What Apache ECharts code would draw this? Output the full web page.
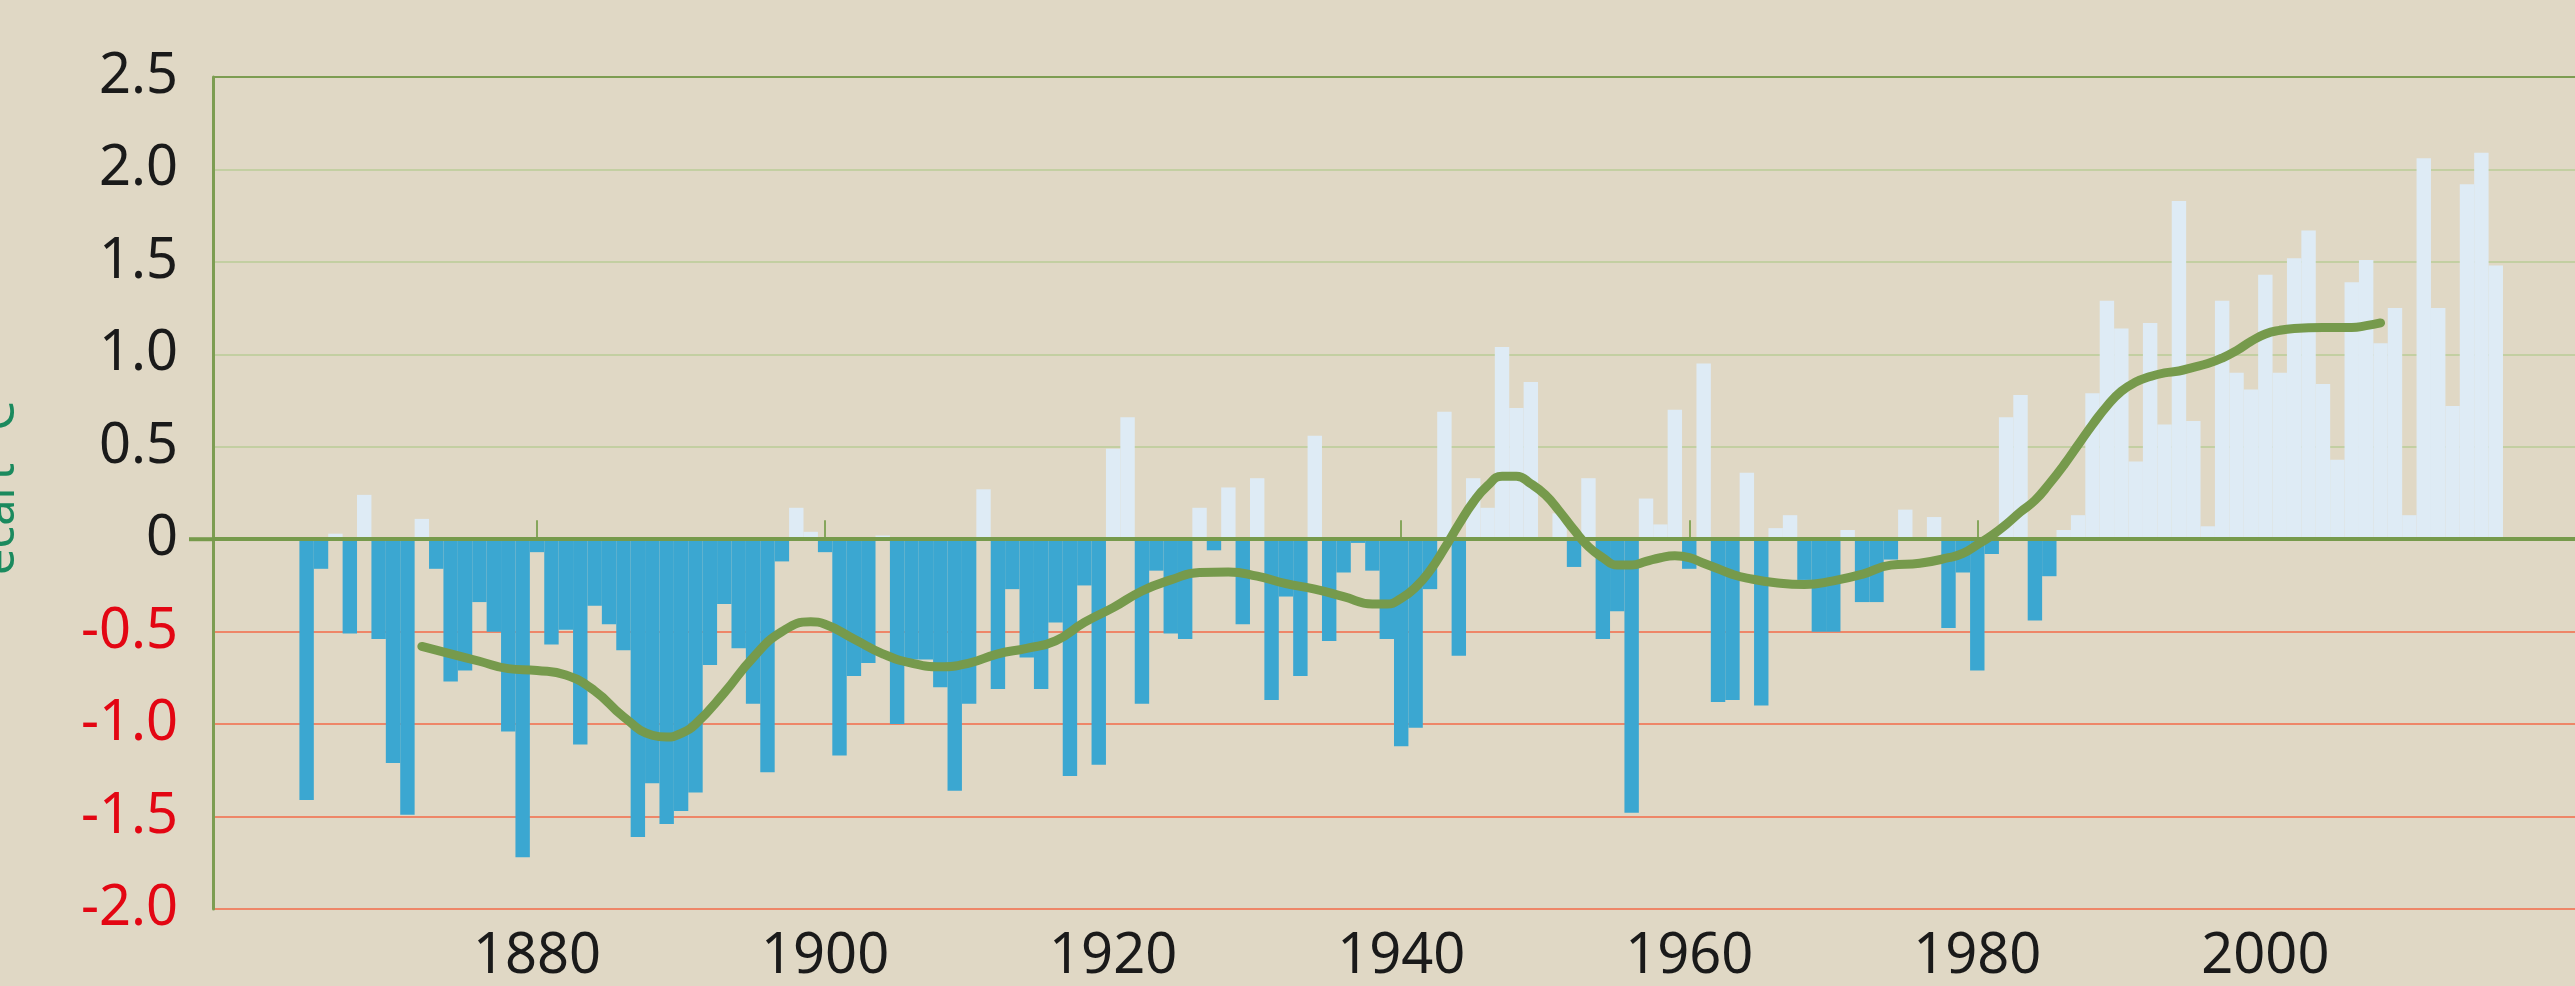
<!DOCTYPE html>
<html>
<head>
<meta charset="utf-8">
<script src="https://cdn.jsdelivr.net/npm/echarts@6/dist/echarts.min.js"></script>
<style>
html,body{margin:0;padding:0;background:#e0d8c5;}
#chart{width:2575px;height:986px;}
</style>
</head>
<body>
<div id="chart"></div>
<script>
// ---- data ----
const firstYear = 1864;
const anomalies = [
  -1.41, -0.16, 0.03, -0.51, 0.24, -0.54, -1.21, -1.49, 0.11, -0.16,   // 1864-1873
  -0.77, -0.71, -0.34, -0.50, -1.04, -1.72, -0.07, -0.57, -0.49, -1.11, // 1874-1883
  -0.36, -0.46, -0.60, -1.61, -1.32, -1.54, -1.47, -1.37, -0.68, -0.35, // 1884-1893
  -0.59, -0.89, -1.26, -0.12, 0.17, 0.04, -0.07, -1.17, -0.74, -0.67,   // 1894-1903
  0.02, -1.00, -0.65, -0.65, -0.80, -1.36, -0.89, 0.27, -0.81, -0.27,   // 1904-1913
  -0.64, -0.81, -0.45, -1.28, -0.25, -1.22, 0.49, 0.66, -0.89, -0.17,   // 1914-1923
  -0.51, -0.54, 0.17, -0.06, 0.28, -0.46, 0.33, -0.87, -0.31, -0.74,    // 1924-1933
  0.56, -0.55, -0.18, -0.02, -0.17, -0.54, -1.12, -1.02, -0.27, 0.69,   // 1934-1943
  -0.63, 0.33, 0.17, 1.04, 0.71, 0.85, 0, 0.14, -0.15, 0.33,            // 1944-1953
  -0.54, -0.39, -1.48, 0.22, 0.08, 0.70, -0.16, 0.95, -0.88, -0.87,     // 1954-1963
  0.36, -0.90, 0.06, 0.13, -0.22, -0.50, -0.50, 0.05, -0.34, -0.34,     // 1964-1973
  -0.11, 0.16, 0, 0.12, -0.48, -0.18, -0.71, -0.08, 0.66, 0.78,         // 1974-1983
  -0.44, -0.20, 0.05, 0.13, 0.79, 1.29, 1.14, 0.42, 1.17, 0.62,         // 1984-1993
  1.83, 0.64, 0.07, 1.29, 0.90, 0.81, 1.43, 0.90, 1.52, 1.67,           // 1994-2003
  0.84, 0.43, 1.39, 1.51, 1.06, 1.25, 0.13, 2.06, 1.25, 0.72,           // 2004-2013
  1.92, 2.09, 1.48                                                      // 2014-2016
];
const curveYears = [1872,1874,1876,1878,1880,1882,1884,1886,1888,1889,1890,1891,1893,1895,1897,1899,1900,1902,1904,1906,1908,1910,1912,1914,1916,1918,1920,1922,1924,1926,1928,1930,1932,1934,1936,1938,1939,1940,1941,1942,1943,1944,1945,1946,1947,1948,1949,1950,1951,1952,1953,1954,1955,1956,1957,1958,1959,1960,1961,1962,1963,1964,1966,1968,1970,1972,1974,1976,1978,1979,1980,1981,1982,1983,1984,1985,1986,1987,1988,1989,1990,1991,1992,1993,1994,1995,1996,1997,1998,1999,2000,2001,2002,2004,2006,2007,2008];
const curveValues = [-0.58,-0.62,-0.66,-0.70,-0.71,-0.735,-0.82,-0.96,-1.06,-1.07,-1.05,-1.0,-0.83,-0.64,-0.50,-0.447,-0.46,-0.54,-0.62,-0.67,-0.69,-0.67,-0.62,-0.59,-0.55,-0.45,-0.37,-0.28,-0.22,-0.18,-0.177,-0.20,-0.24,-0.27,-0.31,-0.35,-0.35,-0.32,-0.26,-0.17,-0.05,0.08,0.20,0.29,0.34,0.34,0.30,0.24,0.15,0.05,-0.04,-0.10,-0.14,-0.14,-0.12,-0.10,-0.09,-0.10,-0.13,-0.16,-0.19,-0.21,-0.235,-0.245,-0.225,-0.19,-0.14,-0.13,-0.10,-0.077,-0.03,0.02,0.08,0.148,0.21,0.30,0.40,0.51,0.62,0.72,0.80,0.85,0.88,0.90,0.91,0.93,0.95,0.98,1.02,1.07,1.11,1.13,1.14,1.145,1.145,1.155,1.17];
const axisStartYear = 1858;
const axisEndYear = 2021;
const xLabelYears = [1880, 1900, 1920, 1940, 1960, 1980, 2000];
const yTicks = [-2.0, -1.5, -1.0, -0.5, 0, 0.5, 1.0, 1.5, 2.0, 2.5];
const yTickLabels = ['-2.0', '-1.5', '-1.0', '-0.5', '0', '0.5', '1.0', '1.5', '2.0', '2.5'];
const yAxisTitle = 'écart °C';

// ---- build ----
const categories = [];
for (let y = axisStartYear; y <= axisEndYear; y++) categories.push(String(y));
const barData = categories.map(c => {
  const i = +c - firstYear;
  return (i >= 0 && i < anomalies.length) ? anomalies[i] : null;
});
const lineData = categories.map(c => {
  const i = curveYears.indexOf(+c);
  return i >= 0 ? curveValues[i] : null;
});

const FONT = 'Noto Sans';
const GREEN = '#769a4b';
const chart = echarts.init(document.getElementById('chart'), null, {renderer: 'canvas'});
const labelFor = v => {
  const i = yTicks.findIndex(t => Math.abs(t - v) < 1e-9);
  return i >= 0 ? yTickLabels[i] : '';
};
const isLabelYear = (idx, v) => xLabelYears.indexOf(+v) >= 0;

chart.setOption({
  backgroundColor: '#e0d8c5',
  animation: false,
  grid: {left: 213, right: 0, top: 77, bottom: 77, containLabel: false, outerBoundsMode: 'none'},
  xAxis: {
    type: 'category',
    data: categories,
    boundaryGap: true,
    axisLine: {show: true, lineStyle: {color: '#86a65c', width: 2}},
    axisTick: {show: true, alignWithLabel: true, inside: true, length: 19, interval: isLabelYear,
      lineStyle: {color: '#86a65c', width: 2}},
    axisLabel: {interval: isLabelYear, color: '#1a1a1a', fontSize: 56, fontFamily: FONT, margin: 20},
    splitLine: {show: false}
  },
  yAxis: {
    type: 'value',
    min: -2, max: 2.5, interval: 0.5,
    name: yAxisTitle,
    nameLocation: 'middle',
    nameRotate: 90,
    nameGap: 189,
    nameTextStyle: {color: '#1b8a5e', fontSize: 47, fontFamily: FONT, padding: [0, 0, 0, 10]},
    axisLine: {show: true, lineStyle: {color: '#7d9d52', width: 3}},
    axisTick: {show: false},
    axisLabel: {
      formatter: v => labelFor(v),
      color: v => (v < 0 ? '#e30613' : '#1a1a1a'),
      fontSize: 56, fontFamily: FONT, margin: 35
    },
    splitLine: {show: true, lineStyle: {width: 2,
      color: ['#ee8668', '#ee8668', '#ee8668', '#ee8668', GREEN, '#c3cfa2', '#c3cfa2', '#c3cfa2', '#c3cfa2', '#7d9d52']}}
  },
  series: [
    {
      type: 'bar',
      data: barData,
      barCategoryGap: '0%',
      barGap: '0%',
      itemStyle: {color: p => (p.value < 0 ? '#3ba7d1' : '#deebf5')},
      markLine: {
        silent: true, symbol: 'none', label: {show: false},
        lineStyle: {color: GREEN, width: 4, type: 'solid'},
        data: [{yAxis: 0}]
      },
      z: 2
    },
    {
      type: 'line',
      data: lineData,
      smooth: true,
      connectNulls: true,
      symbol: 'none',
      lineStyle: {color: '#769a4c', width: 9, cap: 'round'},
      z: 5
    }
  ]
});

// small extension of the zero line left of the axis
const y0 = chart.convertToPixel({yAxisIndex: 0}, 0);
const gridLeft = chart.getModel().getComponent('grid').coordinateSystem.getRect().x;
chart.setOption({
  graphic: [{type: 'line', shape: {x1: gridLeft - 24, y1: y0, x2: gridLeft, y2: y0},
    style: {stroke: GREEN, lineWidth: 4}, z: 10}]
});
</script>
</body>
</html>
